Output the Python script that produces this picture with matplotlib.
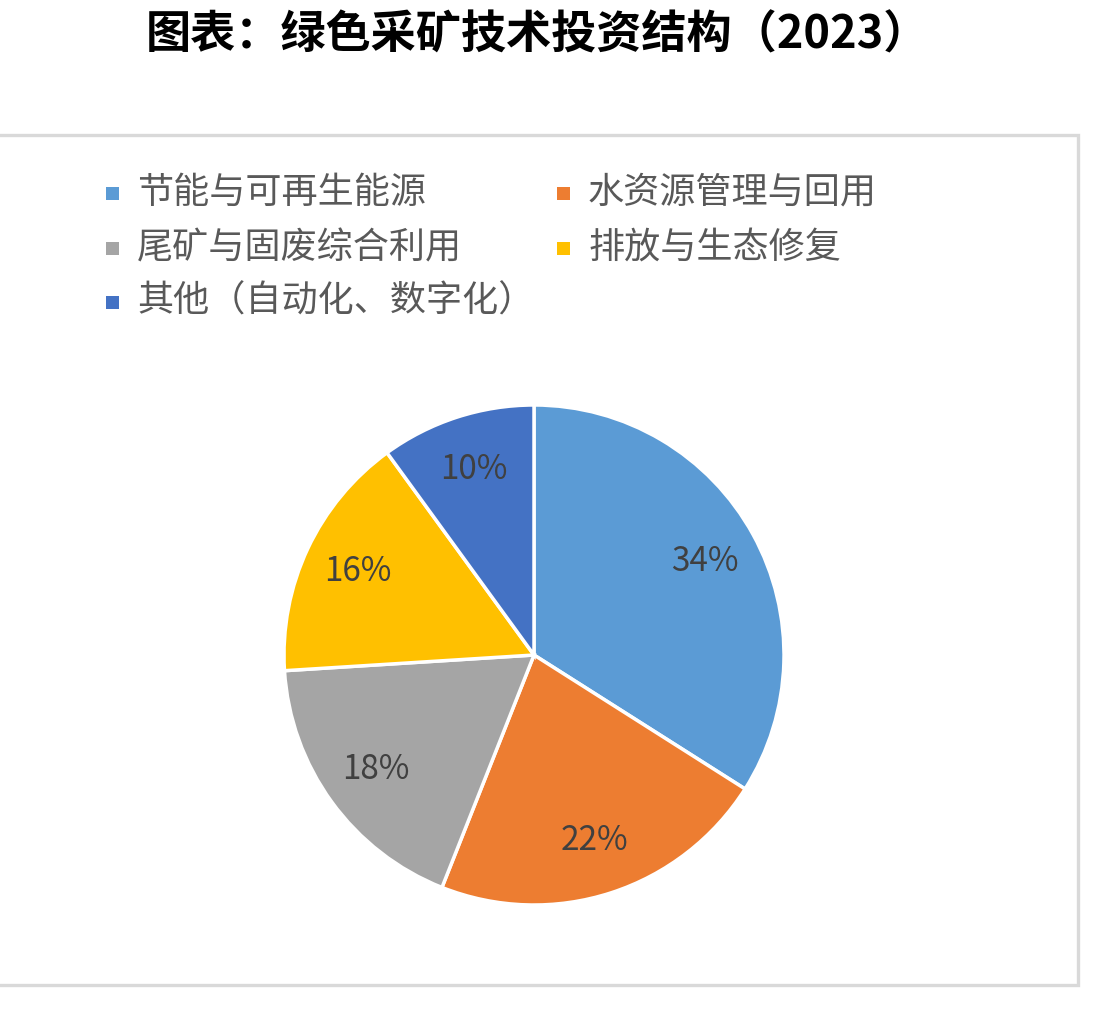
import matplotlib
matplotlib.use("Agg")
import matplotlib.pyplot as plt
from matplotlib.patches import Rectangle

plt.rcParams['font.family'] = ['Noto Sans CJK SC', 'DejaVu Sans']

# data
categories = ['节能与可再生能源', '水资源管理与回用', '尾矿与固废综合利用', '排放与生态修复', '其他（自动化、数字化）']
shares = [34, 22, 18, 16, 10]
colors = ['#5B9BD5', '#ED7D31', '#A5A5A5', '#FFC000', '#4472C4']
title = '图表：绿色采矿技术投资结构（2023）'

W, H = 1093, 1023
fig = plt.figure(figsize=(W / 100, H / 100), dpi=100)

# outer frame
fig.patches.append(Rectangle((-0.01, (H - 985) / H), 1078 / W + 0.01, (985 - 135) / H,
                             transform=fig.transFigure, facecolor='none',
                             edgecolor='#d9d9d9', linewidth=2.4, zorder=0))

fig.text(537 / W, 1 - 35 / H, title, ha='center', va='center',
         fontsize=32.5, fontweight='bold', color='black')

# pie
cx, cy, r = 534, 655, 250
ax = fig.add_axes([(cx - r) / W, (H - cy - r) / H, 2 * r / W, 2 * r / H])
wedges, texts, autotexts = ax.pie(shares, colors=colors, startangle=90, counterclock=False,
                                  autopct='%.0f%%', pctdistance=0.78, radius=1,
                                  wedgeprops=dict(edgecolor='white', linewidth=2.5),
                                  textprops=dict(fontsize=24, color='#404040'))
ax.set_xlim(-1, 1)
ax.set_ylim(-1, 1)
ax.set_aspect('equal')
ax.axis('off')

# legend, two columns
pos = [(106, 193), (557, 193), (106, 248), (557, 248), (106, 302)]
for (x, y), lab, c in zip(pos, categories, colors):
    fig.patches.append(Rectangle((x / W, (H - y - 7) / H), 13 / W, 13 / H,
                                 transform=fig.transFigure, facecolor=c, edgecolor='none'))
    fig.text((x + 31) / W, 1 - y / H, lab, ha='left', va='center',
             fontsize=26, color='#595959')

fig.savefig('out.png', dpi=100)
